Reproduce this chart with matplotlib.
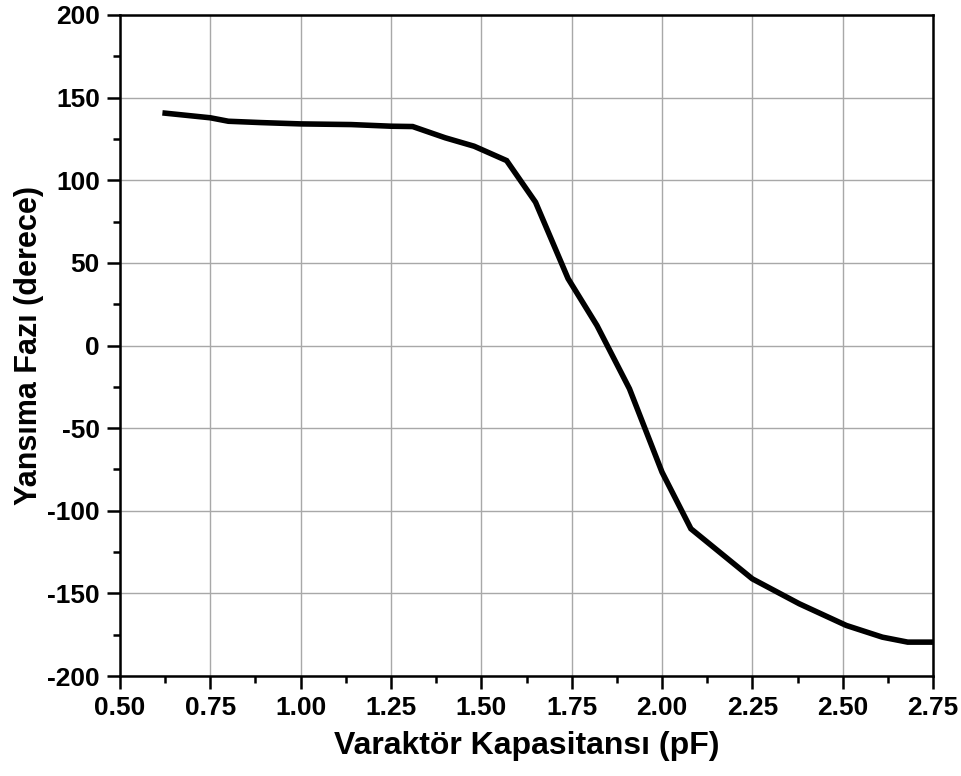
import matplotlib.pyplot as plt
from matplotlib.ticker import MultipleLocator

# capacitance (pF) vs reflection phase (deg)
kapasitans = [0.625, 0.75, 0.80, 0.89, 1.00, 1.14, 1.25, 1.31, 1.40, 1.48,
              1.57, 1.65, 1.74, 1.82, 1.91, 2.00, 2.08, 2.25, 2.38, 2.51,
              2.61, 2.68, 2.75]
faz = [140.6, 137.8, 135.7, 134.9, 134.1, 133.7, 132.7, 132.5, 125.7, 120.6,
       111.9, 86.7, 40.5, 12.1, -26.2, -76.6, -110.9, -141.2, -156.3, -169.4,
       -176.5, -179.5, -179.5]

x_ticks = [0.50, 0.75, 1.00, 1.25, 1.50, 1.75, 2.00, 2.25, 2.50, 2.75]
y_ticks = [-200, -150, -100, -50, 0, 50, 100, 150, 200]

plt.rcParams['font.family'] = ['Liberation Sans', 'DejaVu Sans']
plt.rcParams['font.weight'] = 'bold'
plt.rcParams['axes.unicode_minus'] = False

fig = plt.figure(figsize=(9.61, 7.76), dpi=100)
ax = fig.add_axes([120 / 961, 1 - 676 / 776, (933 - 120) / 961, (676 - 15) / 776])

ax.plot(kapasitans, faz, color='black', linewidth=4.0, solid_joinstyle='miter')

ax.set_xlim(0.5, 2.75)
ax.set_ylim(-200, 200)
ax.set_xticks(x_ticks)
ax.set_xticklabels(['%.2f' % v for v in x_ticks], fontsize=19, fontweight='bold')
ax.set_yticks(y_ticks)
ax.set_yticklabels([str(v) for v in y_ticks], fontsize=19, fontweight='bold')
ax.xaxis.set_minor_locator(MultipleLocator(0.125))
ax.yaxis.set_minor_locator(MultipleLocator(25))

ax.grid(True, which='major', color='#a8a8a8', linewidth=1.0)
ax.set_axisbelow(True)

for side in ['left', 'bottom', 'top', 'right']:
    ax.spines[side].set_linewidth(1.8)
ax.tick_params(which='major', direction='out', length=9.5, width=1.8, pad=5)
ax.tick_params(which='minor', direction='out', length=5, width=1.8)
ax.tick_params(top=False, right=False, which='both')

ax.set_xlabel('Varaktör Kapasitansı (pF)', fontsize=23, fontweight='bold', labelpad=8)
ax.set_ylabel('Yansıma Fazı (derece)', fontsize=22, fontweight='bold', labelpad=2)

fig.savefig('out.png', dpi=100)
